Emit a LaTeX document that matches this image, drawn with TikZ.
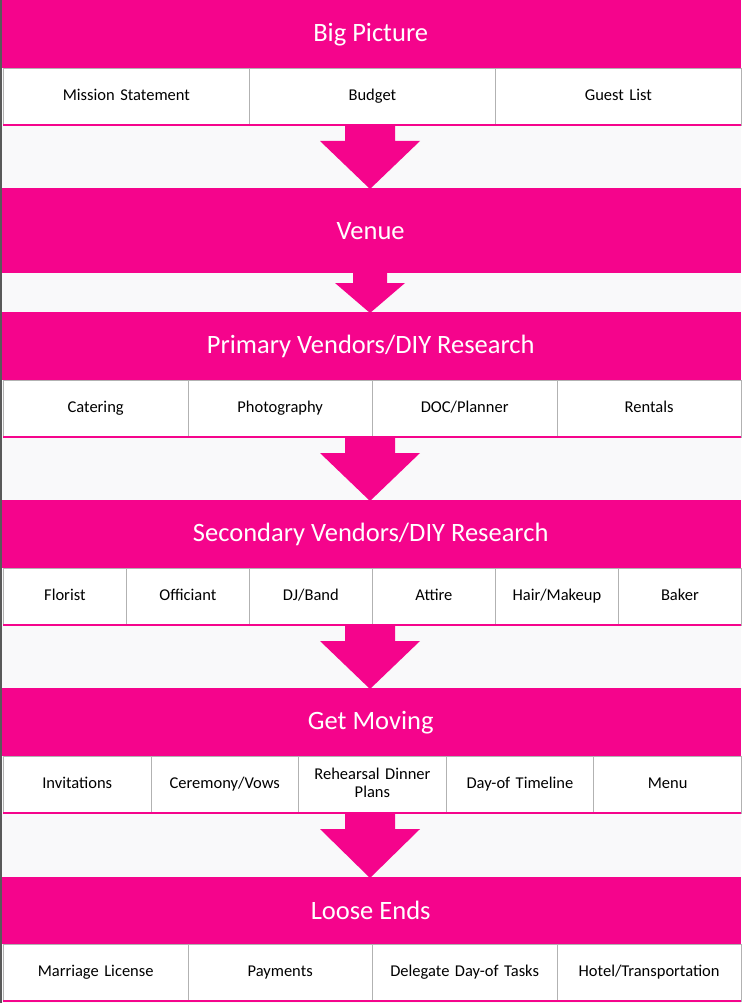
\documentclass[tikz,border=0pt]{standalone}
\usepackage{fontspec}
\setmainfont{Carlito}
\definecolor{pk}{RGB}{245,4,140}
\definecolor{bg}{RGB}{249,249,250}
\begin{document}
\begin{tikzpicture}[x=1pt,y=-1pt,
  band/.style={fill=pk,draw=none,text=white,font=\fontsize{26.5}{30}\selectfont,inner sep=0},
  cell/.style={fill=white,draw=gray!60,line width=0.8pt,font=\fontsize{16.5}{18}\selectfont,inner sep=0,align=center},
  arr/.style={fill=pk,draw=none}]
\useasboundingbox (0,0) rectangle (741,1003);
\fill[bg] (0,0) rectangle (741,1003);
\newcommand{\myband}[4]{\node[band,minimum width=741,minimum height=#3-#2,anchor=north west] (#1) at (0,#2) {#4};}
\newcommand{\mycells}[5]{%
  \foreach \t [count=\i] in {#5}{
    \pgfmathsetmacro{\w}{738/#4}
    \pgfmathsetmacro{\xx}{3+(\i-1)*\w}
    \node[cell,minimum width=\w,minimum height=#3-#2,text width=\w-6,anchor=north west] (#1\i) at (\xx,#2) {\strut\t\strut};
  }
  \draw[pk,line width=1.5pt] (3,#3) -- (741,#3);}
\mycells{a}{68}{125}{3}{Mission Statement,Budget,Guest List}
\mycells{c}{380}{437}{4}{Catering,Photography,DOC/Planner,Rentals}
\mycells{d}{568}{625}{6}{Florist,Officiant,DJ/Band,Attire,Hair/Makeup,Baker}
\mycells{e}{756}{813}{5}{Invitations,Ceremony/Vows,{Rehearsal Dinner\strut\\\strut Plans},Day-of Timeline,Menu}
\mycells{f}{944}{1001}{4}{Marriage License,Payments,Delegate Day-of Tasks,Hotel/Transportation}
\myband{b1}{0}{68}{Big Picture}
\myband{b2}{188}{273}{Venue}
\myband{b3}{312}{380}{Primary Vendors/DIY Research}
\myband{b4}{500}{568}{Secondary Vendors/DIY Research}
\myband{b5}{688}{756}{Get Moving}
\myband{b6}{877}{944}{Loose Ends}
\foreach \top/\neck/\tip in {125/141/189,437/453/501,625/641/689,813/829/878}{
  \fill[arr] (345,\top) -- (395,\top) -- (395,\neck) -- (420,\neck) -- (370,\tip) -- (320,\neck) -- (345,\neck) -- cycle;}
\fill[arr] (353,273) -- (387,273) -- (387,283) -- (405,283) -- (370,313) -- (335,283) -- (353,283) -- cycle;
\draw[gray!70!black,line width=1.5pt] (0.75,0) -- (0.75,1003);
\end{tikzpicture}
\end{document}
